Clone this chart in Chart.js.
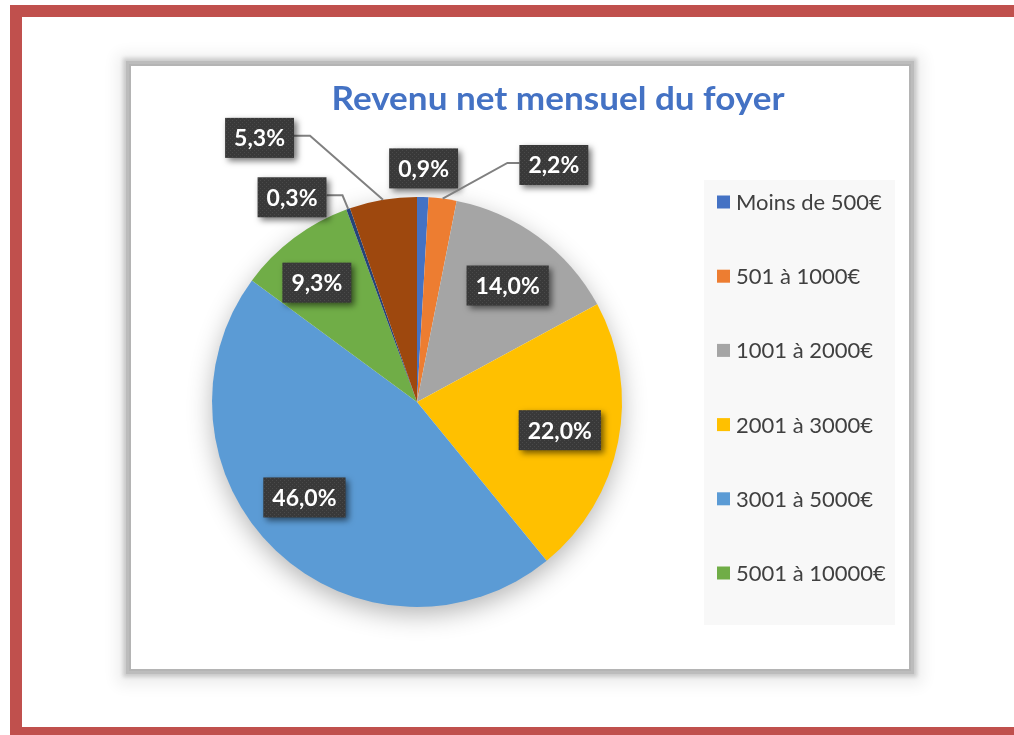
<!DOCTYPE html>
<html><head><meta charset="utf-8">
<script src="https://cdn.jsdelivr.net/npm/chart.js@4.4.0/dist/chart.umd.min.js"></script>
<style>
html,body{margin:0;padding:0;background:#fff;width:1014px;height:735px;overflow:hidden;position:relative}
.bar{position:absolute;background:#C0504D}
#panel{position:absolute;left:131px;top:66px;width:778px;height:603px;background:#fff;
  box-shadow:0 0 0 2px #B4B4B4, 0 0 0 5px #BCBCBC, 0 0 4px 8px rgba(0,0,0,0.16), 0 2px 14px 14px rgba(0,0,0,0.07)}
#c{position:absolute;left:0;top:0}
</style></head><body>
<div class="bar" style="left:10px;top:5px;width:1004px;height:12px"></div>
<div class="bar" style="left:10px;top:5px;width:12px;height:730px"></div>
<div class="bar" style="left:10px;top:727px;width:1004px;height:8px"></div>
<div id="panel"></div>
<canvas id="c" width="1014" height="735"></canvas>
<script>
const categories = ['Moins de 500€','501 à 1000€','1001 à 2000€','2001 à 3000€','3001 à 5000€','5001 à 10000€','Plus de 10000€','Non réponse'];
const shares = [0.9, 2.2, 14.0, 22.0, 46.0, 9.3, 0.3, 5.3];
const colors = ['#4472C4','#ED7D31','#A5A5A5','#FFC000','#5B9BD5','#70AD47','#264478','#9E480E'];
const legendCount = 6;
const chartTitle = 'Revenu net mensuel du foyer';

// label placement (layout only): radius factor, angle in deg from top (null = slice middle), leader side
const labelPlace = [
  {f:1.14, a:null},
  {f:1.335, a:30, side:'left'},
  {f:0.72, a:37.9},
  {f:0.71, a:null},
  {f:0.72, a:229.7},
  {f:0.76, a:320},
  {f:1.17, a:-31.4, side:'right'},
  {f:1.5, a:-30.8, side:'right'}
];

const fmt = v => v.toFixed(1).replace('.', ',') + '%';
const FONT = 'Lato, "Open Sans", sans-serif';

const pattern = (() => {
  const c = document.createElement('canvas'); c.width = 4; c.height = 4;
  const x = c.getContext('2d');
  x.fillStyle = '#393939'; x.fillRect(0, 0, 4, 4);
  x.fillStyle = '#4a4a4a'; x.fillRect(0, 0, 1, 1); x.fillRect(2, 2, 1, 1);
  return c;
})();

function fitFont(ctx, text, weight, target) {
  ctx.font = weight + ' 100px ' + FONT;
  const w = ctx.measureText(text).width;
  return 100 * target / w;
}

const deco = {
  id: 'deco',
  beforeDatasetsDraw(chart) {
    const ctx = chart.ctx;
    const arc = chart.getDatasetMeta(0).data[0];
    const {x, y, outerRadius} = arc.getProps(['x','y','outerRadius'], true);
    ctx.save();
    ctx.fillStyle = '#F8F8F8';
    ctx.fillRect(704, 180, 191, 445);
    ctx.shadowColor = 'rgba(0,0,0,0.30)';
    ctx.shadowBlur = 26; ctx.shadowOffsetY = 8;
    ctx.beginPath(); ctx.arc(x, y, outerRadius - 1, 0, Math.PI * 2);
    ctx.fillStyle = '#fff'; ctx.fill();
    ctx.restore();
  },
  afterDatasetsDraw(chart) {
    const ctx = chart.ctx;
    const meta = chart.getDatasetMeta(0);
    ctx.save();
    // title (slightly condensed to mimic the original face)
    ctx.font = 'bold 32px ' + FONT;
    const tw0 = ctx.measureText(chartTitle).width;
    ctx.save();
    ctx.translate(558, 110);
    ctx.scale(453 / tw0, 1);
    ctx.fillStyle = '#4472C4';
    ctx.textAlign = 'center'; ctx.textBaseline = 'alphabetic';
    ctx.fillText(chartTitle, 0, 0);
    ctx.restore();

    // legend
    const ls = fitFont(ctx, categories[0], 'normal', 146);
    ctx.font = ls.toFixed(1) + 'px ' + FONT;
    ctx.textAlign = 'left'; ctx.textBaseline = 'middle';
    for (let i = 0; i < legendCount; i++) {
      const cy = 202 + i * 74.2;
      ctx.fillStyle = colors[i];
      ctx.fillRect(717, cy - 6.5, 13, 13);
      ctx.fillStyle = '#404040';
      ctx.fillText(categories[i], 736, cy + 1);
    }

    // data labels
    const fs = fitFont(ctx, '0,9%', 'bold', 51);
    meta.data.forEach((arc, i) => {
      const p = arc.getProps(['x','y','startAngle','endAngle','outerRadius'], true);
      const place = labelPlace[i];
      const mid = (p.startAngle + p.endAngle) / 2;
      const ang = place.a === null ? mid : (place.a - 90) * Math.PI / 180;
      const cx = p.x + Math.cos(ang) * p.outerRadius * place.f;
      const cy = p.y + Math.sin(ang) * p.outerRadius * place.f;
      const text = fmt(shares[i]);
      ctx.font = 'bold ' + fs.toFixed(1) + 'px ' + FONT;
      const tw = ctx.measureText(text).width;
      const bw = tw + 18, bh = 40;
      if (place.side) {
        const ex = p.x + Math.cos(mid) * p.outerRadius;
        const ey = p.y + Math.sin(mid) * p.outerRadius;
        const sideX = place.side === 'left' ? cx - bw / 2 : cx + bw / 2;
        const elbowX = place.side === 'left' ? sideX - 12 : sideX + 16;
        ctx.strokeStyle = '#808080'; ctx.lineWidth = 2;
        ctx.beginPath(); ctx.moveTo(ex, ey); ctx.lineTo(elbowX, cy - 2); ctx.lineTo(sideX, cy - 2); ctx.stroke();
      }
      ctx.save();
      ctx.shadowColor = 'rgba(0,0,0,0.55)'; ctx.shadowBlur = 6; ctx.shadowOffsetX = 3; ctx.shadowOffsetY = 3;
      ctx.fillStyle = ctx.createPattern(pattern, 'repeat');
      ctx.fillRect(cx - bw / 2, cy - bh / 2, bw, bh);
      ctx.restore();
      ctx.fillStyle = '#FFFFFF';
      ctx.textAlign = 'center'; ctx.textBaseline = 'middle';
      ctx.fillText(text, cx, cy + 1);
    });
    ctx.restore();
  }
};

new Chart(document.getElementById('c'), {
  type: 'pie',
  data: {
    labels: categories,
    datasets: [{ data: shares, backgroundColor: colors, borderWidth: 0 }]
  },
  options: {
    responsive: false,
    animation: false,
    layout: { padding: { left: 212, right: 392, top: 197, bottom: 128 } },
    plugins: { legend: { display: false }, tooltip: { enabled: false }, title: { display: false } }
  },
  plugins: [deco]
});
</script>
</body></html>
